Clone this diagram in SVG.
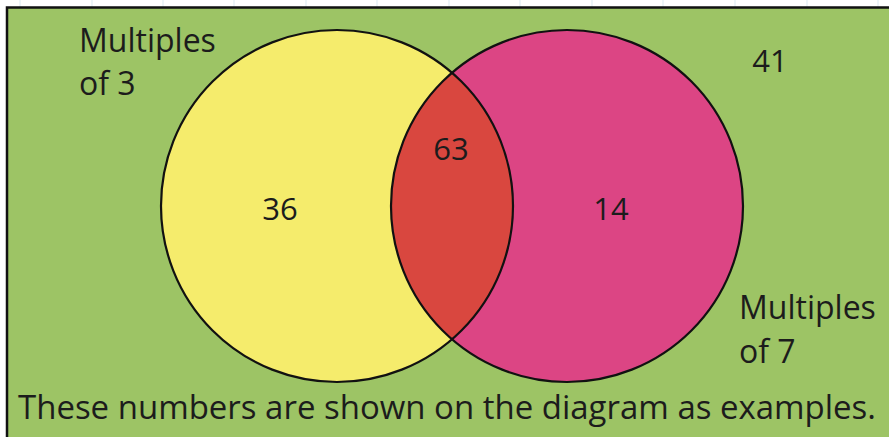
<svg xmlns="http://www.w3.org/2000/svg" width="889" height="437" viewBox="0 0 889 437">
  <style>
    .grid { stroke: #dbe9f1; stroke-width: 1; }
    .lbl { font-family: "Open Sans", "Noto Sans", "DejaVu Sans", sans-serif; font-size: 32px; fill: #1c1c1c; }
    .num { font-size: 31px; }
    .outline { fill: none; stroke: #111; stroke-width: 2.2; }
  </style>
  <defs>
    <clipPath id="clipYellow">
      <circle cx="337" cy="206" r="176"/>
    </clipPath>
  </defs>
  <rect x="0" y="0" width="889" height="437" fill="#ffffff"/>
  <g id="grid">
    <line class="grid" x1="20" y1="0" x2="20" y2="7"/>
    <line class="grid" x1="92" y1="0" x2="92" y2="7"/>
    <line class="grid" x1="163" y1="0" x2="163" y2="7"/>
    <line class="grid" x1="234" y1="0" x2="234" y2="7"/>
    <line class="grid" x1="306" y1="0" x2="306" y2="7"/>
    <line class="grid" x1="377" y1="0" x2="377" y2="7"/>
    <line class="grid" x1="449" y1="0" x2="449" y2="7"/>
    <line class="grid" x1="520" y1="0" x2="520" y2="7"/>
    <line class="grid" x1="592" y1="0" x2="592" y2="7"/>
    <line class="grid" x1="663" y1="0" x2="663" y2="7"/>
    <line class="grid" x1="735" y1="0" x2="735" y2="7"/>
    <line class="grid" x1="807" y1="0" x2="807" y2="7"/>
    <line class="grid" x1="878" y1="0" x2="878" y2="7"/>
  </g>
  <g id="board">
    <rect x="7" y="7.5" width="900" height="450" fill="#9dc465" stroke="#111" stroke-width="2.5"/>
  </g>
  <g id="set-multiples-of-3">
    <circle cx="337" cy="206" r="176" fill="#f5ec6c"/>
  </g>
  <g id="set-multiples-of-7">
    <circle cx="567" cy="206" r="176" fill="#dc4584"/>
  </g>
  <g id="intersection">
    <circle cx="567" cy="206" r="176" fill="#d9473f" clip-path="url(#clipYellow)"/>
  </g>
  <g id="outlines">
    <circle class="outline" cx="337" cy="206" r="176"/>
    <circle class="outline" cx="567" cy="206" r="176"/>
  </g>
  <g id="label-3">
    <text class="lbl" x="79" y="52">Multiples</text>
    <text class="lbl" x="79" y="95">of 3</text>
  </g>
  <g id="label-7">
    <text class="lbl" x="739" y="319">Multiples</text>
    <text class="lbl" x="739" y="363">of 7</text>
  </g>
  <g id="numbers">
    <text class="lbl num" x="280" y="220" text-anchor="middle">36</text>
    <text class="lbl num" x="451" y="160" text-anchor="middle">63</text>
    <text class="lbl num" x="611" y="220" text-anchor="middle">14</text>
    <text class="lbl num" x="770" y="72" text-anchor="middle">41</text>
  </g>
  <g id="caption">
    <text class="lbl" x="18" y="419" font-size="33" textLength="858" lengthAdjust="spacingAndGlyphs">These numbers are shown on the diagram as examples.</text>
  </g>
</svg>
